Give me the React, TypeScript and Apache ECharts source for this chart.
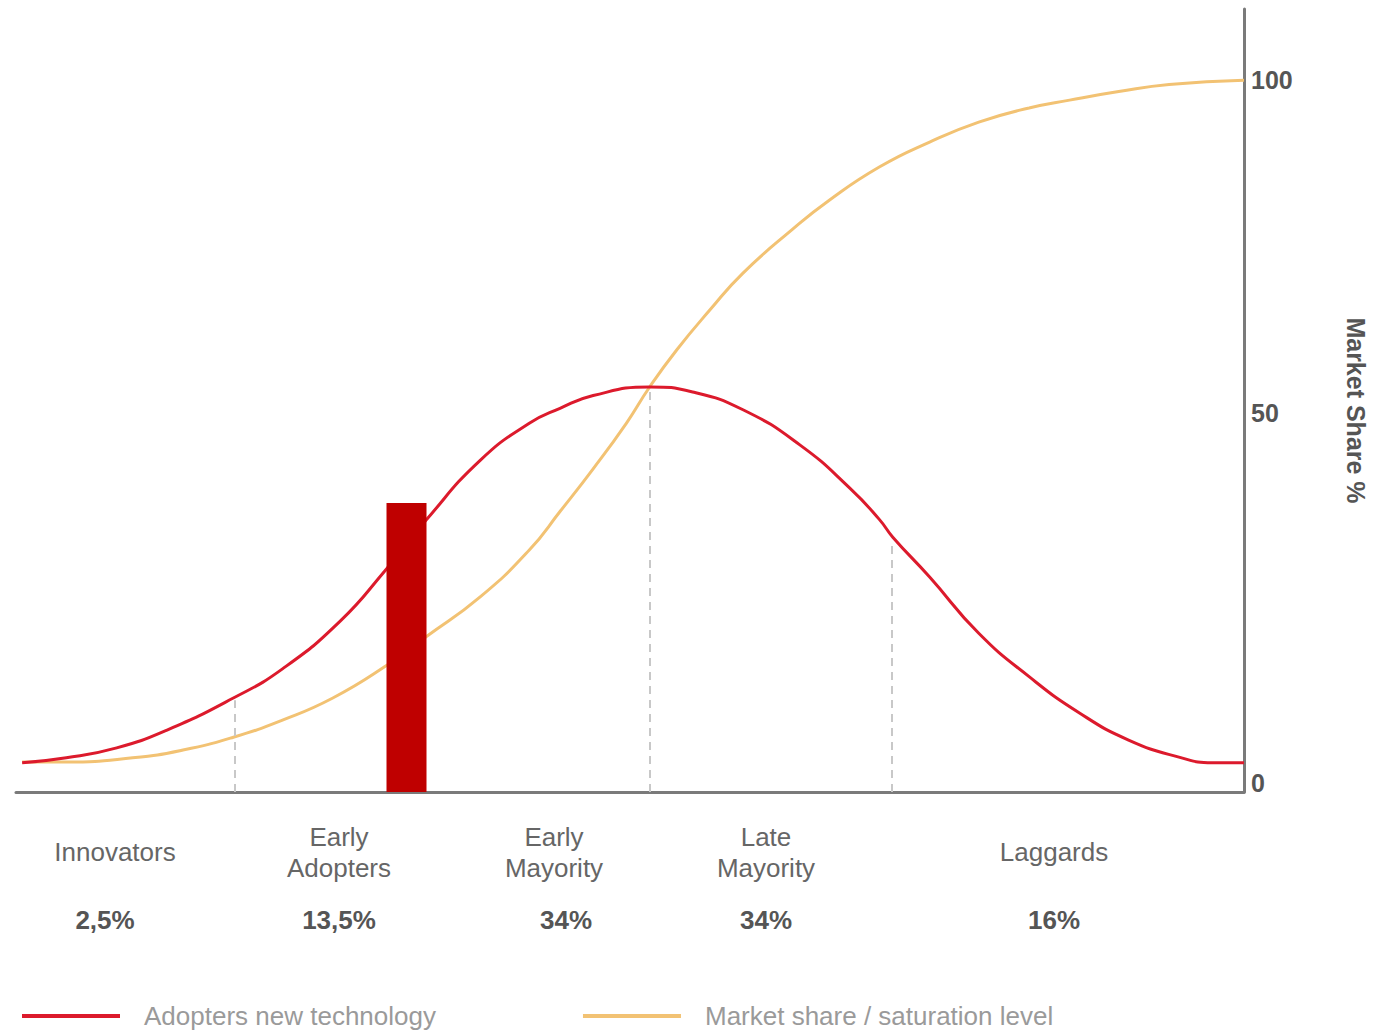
import React, { useEffect, useRef } from "react";
import * as echarts from "echarts";

// Adoption curve (red): x position 0-100, value
const adoptersX = [0.5, 4.1, 8.2, 12.3, 17.7, 21.7, 26.4, 30.1, 33.4, 37.8, 41.8, 44.3, 47.0, 51.6, 55.1, 59.2, 63.8, 67.9, 70.3, 71.4, 74.4, 78.4, 82.5, 86.6, 90.6, 94.7, 97.4, 100];
const adoptersY = [4.1, 4.8, 6.2, 8.7, 13.2, 17.3, 24.0, 31.2, 38.2, 46.6, 51.8, 53.9, 55.7, 56.9, 56.2, 53.7, 48.8, 42.7, 38.3, 35.8, 30.2, 22.3, 16.2, 11.1, 7.3, 4.9, 4.1, 4.1];

// Market share / saturation (orange)
const marketX = [0.5, 4.1, 9.5, 13.6, 17.7, 21.7, 25.8, 30.2, 33.4, 37.8, 41.8, 44.3, 47.0, 49.7, 51.6, 53.8, 56.5, 59.2, 63.2, 66.2, 70.3, 74.4, 78.4, 82.5, 85.8, 89.8, 93.9, 100];
const marketY = [4.2, 4.2, 4.8, 5.9, 7.7, 10.1, 13.2, 17.8, 21.8, 27.4, 34.0, 39.4, 45.4, 51.8, 56.9, 62.1, 67.7, 72.9, 79.0, 83.1, 87.8, 91.3, 94.1, 96.1, 97.2, 98.4, 99.4, 100];

// Red bar
const barX = [31.8];
const barY = [40.6];

// Segment boundaries (dashed lines): x and curve value
const boundaryX = [17.8, 51.6, 71.3];
const boundaryTop = [12.9, 56.9, 35.2];

const categories = ["Innovators", "Early\nAdopters", "Early\nMayority", "Late\nMayority", "Laggards"];
const shares = ["2,5%", "13,5%", "34%", "34%", "16%"];
const categoryCenters = [115, 339, 554, 766, 1054];
const shareCenters = [105, 339, 566, 766, 1054];

const yTicks = [0, 50, 100];
const seriesNames = ["Adopters new technology", "Market share / saturation level"];

const FONT = "'Liberation Sans', Arial, Helvetica, sans-serif";

export default function App() {
  const ref = useRef<HTMLDivElement>(null);
  useEffect(() => {
    document.body.style.margin = "0";
    const chart = echarts.init(ref.current!, null, { renderer: "svg" });
    const graphics: any[] = [];
    categories.forEach((c, i) => {
      graphics.push({
        type: "text",
        x: categoryCenters[i],
        y: 852,
        style: {
          text: c,
          fill: "#666666",
          font: `26px ${FONT}`,
          align: "center",
          verticalAlign: "middle",
          lineHeight: 31,
        },
      });
      graphics.push({
        type: "text",
        x: shareCenters[i],
        y: 920,
        style: {
          text: shares[i],
          fill: "#555555",
          font: `bold 26px ${FONT}`,
          align: "center",
          verticalAlign: "middle",
        },
      });
    });

    const labelStyle = { color: "#555555", fontSize: 25, fontWeight: "bold", fontFamily: FONT };

    chart.setOption({
      animation: false,
      textStyle: { fontFamily: FONT },
      grid: { left: 16, right: 128, top: 9, bottom: 240, containLabel: false },
      legend: {
        data: seriesNames,
        left: 17,
        top: 998,
        icon: "rect",
        itemWidth: 98,
        itemHeight: 4,
        itemGap: 147,
        textStyle: { color: "#9a9a9a", fontSize: 26, padding: [0, 0, 0, 19], fontFamily: FONT },
      },
      xAxis: {
        type: "value",
        min: 0,
        max: 100,
        axisLine: { show: true, onZero: false, lineStyle: { color: "#7a7a7a", width: 3 } },
        axisTick: { show: false },
        axisLabel: { show: false },
        splitLine: { show: false },
      },
      yAxis: {
        type: "value",
        position: "right",
        min: 0,
        max: 110,
        interval: 10,
        name: "Market Share %",
        nameLocation: "middle",
        nameRotate: -90,
        nameGap: 99,
        nameTextStyle: { color: "#555555", fontSize: 25, fontWeight: "bold", fontFamily: FONT, padding: [0, 0, 0, 20] },
        axisLine: { show: true, onZero: false, lineStyle: { color: "#7a7a7a", width: 3 } },
        axisTick: { show: false },
        splitLine: { show: false },
        axisLabel: {
          margin: 7,
          formatter: (v: number) => {
            if (!yTicks.includes(v)) return "";
            if (v === 0) return "{z|0}";
            if (v === 50) return "{m|50}";
            return "{t|" + v + "}";
          },
          rich: {
            t: { ...labelStyle },
            m: { ...labelStyle, padding: [0, 0, 46, 0] },
            z: { ...labelStyle, padding: [0, 0, 18, 0] },
          },
        },
      },
      series: [
        {
          name: "bar",
          type: "bar",
          data: barX.map((x, i) => [x, barY[i]]),
          barWidth: 40,
          itemStyle: { color: "#bf0000" },
          z: 3,
        },
        {
          name: seriesNames[1],
          type: "line",
          data: marketX.map((x, i) => [x, marketY[i]]),
          smooth: 0.5,
          symbol: "none",
          lineStyle: { color: "#f2c273", width: 3 },
          itemStyle: { color: "#f2c273" },
          z: 2,
        },
        {
          name: seriesNames[0],
          type: "line",
          data: adoptersX.map((x, i) => [x, adoptersY[i]]),
          smooth: 0.5,
          symbol: "none",
          lineStyle: { color: "#dc1a2c", width: 3 },
          itemStyle: { color: "#dc1a2c" },
          z: 2,
          markLine: {
            silent: true,
            symbol: ["none", "none"],
            label: { show: false },
            lineStyle: { color: "#c8c8c8", type: [8, 6], width: 2 },
            data: boundaryX.map((x, i) => [{ coord: [x, 0] }, { coord: [x, boundaryTop[i]] }]),
          },
        },
      ],
      graphic: graphics,
    });
    return () => chart.dispose();
  }, []);
  return <div ref={ref} style={{ width: 1376, height: 1032 }} />;
}
